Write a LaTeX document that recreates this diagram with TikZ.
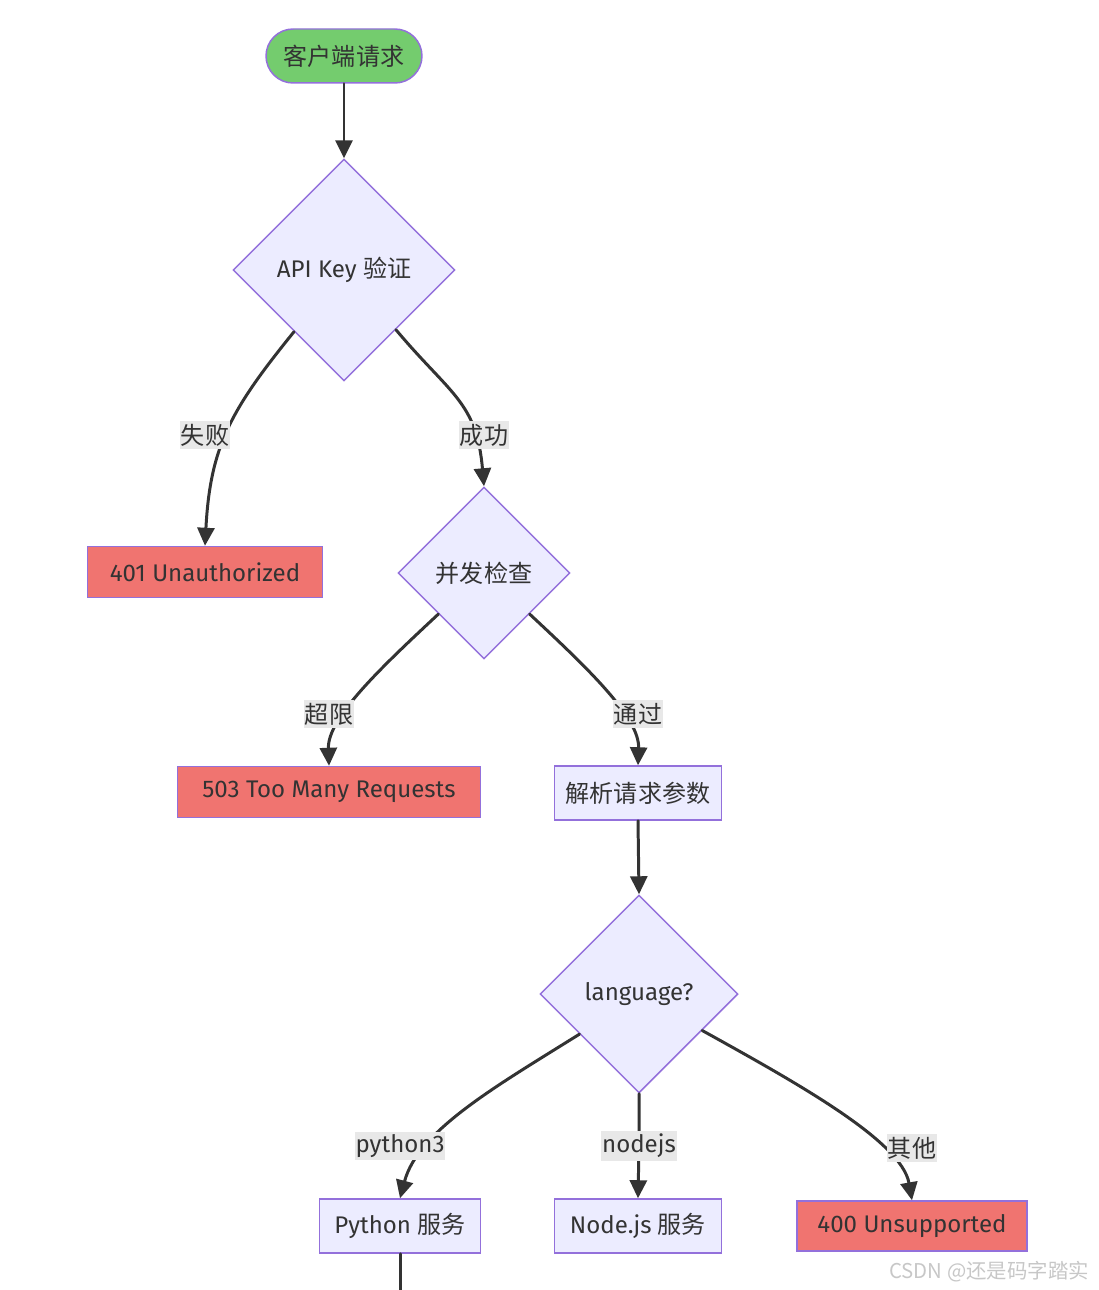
\documentclass[tikz,border=0pt]{standalone}
\usepackage{fontspec}
\setmainfont{Fira Sans}
\newfontfamily\cjk{Noto Sans CJK SC}
\usetikzlibrary{shapes.geometric,arrows.meta}

\definecolor{boxfill}{HTML}{ECECFF}
\definecolor{boxline}{HTML}{9370DB}
\definecolor{errfill}{HTML}{F07470}
\definecolor{startfill}{HTML}{74CC6E}
\definecolor{flowline}{HTML}{333333}
\definecolor{lblfill}{HTML}{E8E8E8}

\begin{document}
\begin{tikzpicture}[%
        x = 0.02cm,
        y = 0.02cm,
        line cap = round,
        > = {Triangle[length = 0.36cm, width = 0.34cm]},
        every node/.style = {%
            font = \fontsize{13.7}{16}\selectfont,
            text = flowline
        },
        startbox/.style = {
            draw = boxline,
            line width = 0.85pt,
            fill = startfill,
            rounded corners = 0.54cm,
            minimum width = 3.12cm,
            minimum height = 1.08cm
        },
        procbox/.style = {
            draw = boxline,
            line width = 0.85pt,
            fill = boxfill,
            minimum height = 1.08cm
        },
        errbox/.style = {
            procbox,
            fill = errfill,
            minimum height = 1.02cm
        },
        decision/.style = {
            diamond,
            draw = boxline,
            line width = 0.85pt,
            fill = boxfill,
            aspect = 1,
            inner sep = 0pt
        },
        flow/.style = {
            draw = flowline,
            line width = 1.7pt,
            ->
        },
        lbl/.style = {
            fill = lblfill,
            inner xsep = 0.5pt,
            inner ysep = 1.5pt
        }
    ]

        % Fix the page to the size of the reference.
        \useasboundingbox (0, 0) rectangle (1098, -1290);

        % Start of the flow and the key check.
        \node[startbox] at (344, -56) (req) {\cjk 客户端请求};
        \node[decision, minimum width = 4.44cm, minimum height = 4.44cm]
            at (344, -270) (key) {API Key {\cjk 验证}};
        \node[errbox, minimum width = 4.70cm] at (205, -572) (e401) {401 Unauthorized};

        % Concurrency check.
        \node[decision, minimum width = 3.44cm, minimum height = 3.44cm]
            at (484, -573) (conc) {\cjk 并发检查};
        \node[errbox, minimum width = 6.06cm] at (329, -792) (e503) {503 Too Many Requests};
        \node[procbox, minimum width = 3.34cm] at (638, -793) (parse) {\cjk 解析请求参数};

        % Language switch and the services.
        \node[decision, minimum width = 3.96cm, minimum height = 3.96cm]
            at (639, -994) (lang) {language?};
        \node[procbox, minimum width = 3.22cm] at (400, -1226) (py) {Python {\cjk 服务}};
        \node[procbox, minimum width = 3.34cm] at (638, -1226) (nd) {Node.js {\cjk 服务}};
        \node[errbox, minimum width = 4.60cm, minimum height = 1.0cm]
            at (912, -1226) (e400) {400 Unsupported};

        % Points where the edge labels sit.
        \coordinate (c-fail) at (205, -435);
        \coordinate (c-ok) at (484, -435);
        \coordinate (c-over) at (329, -714);
        \coordinate (c-pass) at (638, -714);
        \coordinate (c-py) at (400, -1146);
        \coordinate (c-nd) at (639, -1146);
        \coordinate (c-other) at (912, -1148);
        \coordinate (py-out) at (400, -1290);

        % Draw the connectors.
        \draw[flow] (req.south) -- (key.north);
        \draw[flow] (key.-129) to [out = -129, in = 87,
                    out distance = 2.0cm, in distance = 2.0cm] (e401.north);
        \draw[flow] (key.-49) to [out = -50, in = 95,
                    out distance = 1.7cm, in distance = 1.7cm] (conc.north);
        \draw[flow] (conc.-138) to [out = -137, in = 92,
                    out distance = 1.6cm, in distance = 0.95cm] (e503.north);
        \draw[flow] (conc.-42) to [out = -43, in = 88,
                    out distance = 1.6cm, in distance = 0.95cm] (parse.north);
        \draw[flow] (parse.south) -- (lang.north);
        \draw[flow] (lang.-146) to [out = -148, in = 75,
                    out distance = 2.0cm, in distance = 1.4cm] (py.north);
        \draw[flow] (lang.south) -- (c-nd) -- (nd.north);
        \draw[flow] (lang.-30) to [out = -29, in = 100,
                    out distance = 2.2cm, in distance = 1.2cm] (e400.north);
        \draw[flow, -] (py.south) -- (py-out);

        % Edge labels on top of the lines.
        \node[lbl] at (c-fail) (l-fail) {\cjk 失败};
        \node[lbl] at (c-ok) (l-ok) {\cjk 成功};
        \node[lbl] at (c-over) (l-over) {\cjk 超限};
        \node[lbl] at (c-pass) (l-pass) {\cjk 通过};
        \node[lbl] at (c-py) (l-py) {python3};
        \node[lbl] at (c-nd) (l-nd) {nodejs};
        \node[lbl] at (c-other) (l-other) {\cjk 其他};

        % Watermark.
        \node[anchor = east, text = black!22, font = \cjk\fontsize{11.6}{13}\selectfont]
            at (1095, -1272) (mark) {CSDN @还是码字踏实};
    \end{tikzpicture}
\end{document}
